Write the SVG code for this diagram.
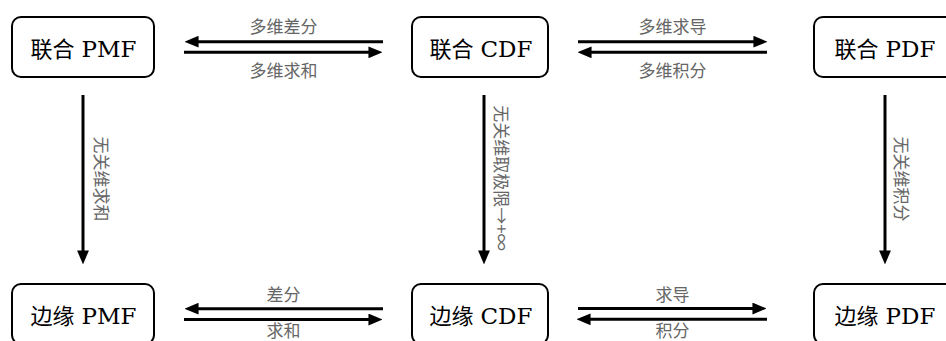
<svg xmlns="http://www.w3.org/2000/svg" width="946" height="341" viewBox="0 0 946 341">
<defs>
<style>
.box{fill:#fff;stroke:#000;stroke-width:2}
.nt{font-family:"DejaVu Serif","Noto Sans CJK SC",serif;font-size:22px;fill:#000;text-anchor:middle}
.nt tspan{font-size:23px}
.lb{font-family:"Noto Sans CJK SC","Noto Sans",sans-serif;font-size:17px;fill:#666;text-anchor:middle;dominant-baseline:central}
.ln{stroke:#000;stroke-width:3;fill:none;marker-end:url(#ah)}
</style>
<marker id="ah" markerUnits="userSpaceOnUse" markerWidth="14" markerHeight="12" viewBox="0 0 13 11" refX="7" refY="5.5" orient="auto">
<path d="M0,0 L13,5.5 L0,11 z" fill="#000"/>
</marker>
</defs>
<rect width="946" height="341" fill="#fff"/>
<g id="joint-pmf"><rect class="box" x="12" y="17" width="142" height="60" rx="9"/><text class="nt" x="83.5" y="57">联合 <tspan>PMF</tspan></text></g>
<g id="joint-cdf"><rect class="box" x="412" y="17" width="136" height="60" rx="9"/><text class="nt" x="481" y="57">联合 <tspan>CDF</tspan></text></g>
<g id="joint-pdf"><rect class="box" x="814" y="17" width="142" height="60" rx="9"/><text class="nt" x="885" y="57">联合 <tspan>PDF</tspan></text></g>
<g id="marg-pmf"><rect class="box" x="12" y="284" width="142" height="60" rx="9"/><text class="nt" x="83.5" y="324">边缘 <tspan>PMF</tspan></text></g>
<g id="marg-cdf"><rect class="box" x="412" y="284" width="136" height="60" rx="9"/><text class="nt" x="481" y="324">边缘 <tspan>CDF</tspan></text></g>
<g id="marg-pdf"><rect class="box" x="814" y="284" width="142" height="60" rx="9"/><text class="nt" x="885" y="324">边缘 <tspan>PDF</tspan></text></g>
<g id="connectors">
<line class="ln" x1="383" y1="41.7" x2="191" y2="41.7"/>
<line class="ln" x1="184" y1="52.3" x2="376" y2="52.3"/>
<line class="ln" x1="578" y1="41.7" x2="761" y2="41.7"/>
<line class="ln" x1="767" y1="52.3" x2="584" y2="52.3"/>
<line class="ln" x1="383" y1="308.7" x2="191" y2="308.7"/>
<line class="ln" x1="184" y1="319.5" x2="376" y2="319.5"/>
<line class="ln" x1="578" y1="308.5" x2="760" y2="308.5"/>
<line class="ln" x1="767" y1="319.3" x2="583" y2="319.3"/>
<line class="ln" x1="83" y1="95" x2="83" y2="258"/>
<line class="ln" x1="484" y1="95" x2="484" y2="258"/>
<line class="ln" x1="885" y1="95" x2="885" y2="258"/>
<text class="lb" x="283.5" y="25.5">多维差分</text>
<text class="lb" x="283.5" y="69.5">多维求和</text>
<text class="lb" x="672.5" y="25.5">多维求导</text>
<text class="lb" x="672.5" y="69.5">多维积分</text>
<text class="lb" x="283.5" y="293">差分</text>
<text class="lb" x="283.5" y="329">求和</text>
<text class="lb" x="672.5" y="293">求导</text>
<text class="lb" x="672.5" y="329">积分</text>
<text class="lb" transform="translate(102.5,179) rotate(90)">无关维求和</text>
<text class="lb" transform="translate(502,178) rotate(90)">无关维取极限→+∞</text>
<text class="lb" transform="translate(902.5,179) rotate(90)">无关维积分</text>
</g>
</svg>
